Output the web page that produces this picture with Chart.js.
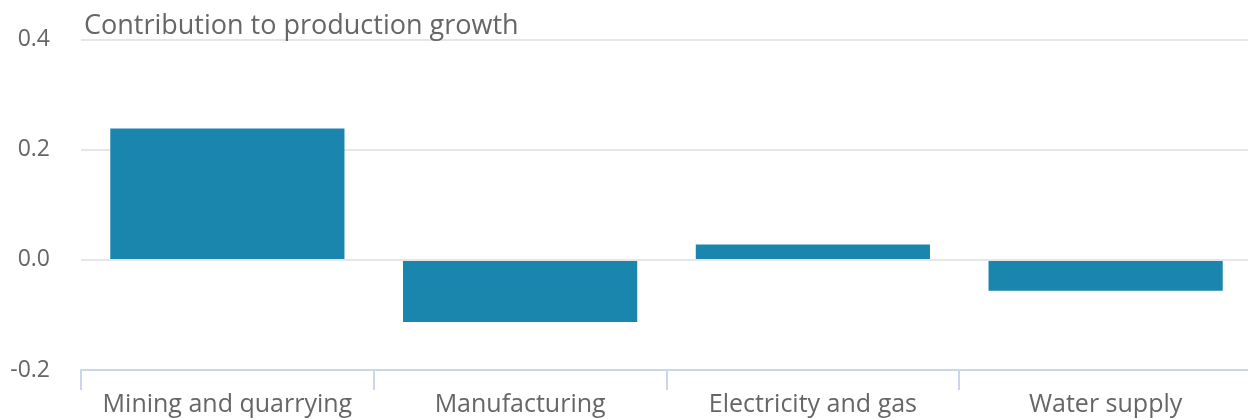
<!DOCTYPE html>
<html>
<head>
<meta charset="utf-8">
<script src="https://cdn.jsdelivr.net/npm/chart.js@4"></script>
<style>
  html, body { margin: 0; padding: 0; background: #fff; overflow: hidden; }
  #wrap { width: 1252px; height: 424px; margin-top: -5px; }
</style>
</head>
<body>
<div id="wrap"><canvas id="chart"></canvas></div>
<script>
// datos del grafico
const categories = ['Mining and quarrying', 'Manufacturing', 'Electricity and gas', 'Water supply'];
const contributions = [0.239, -0.113, 0.028, -0.056];
const yTicks = [-0.2, 0.0, 0.2, 0.4];
const chartTitle = 'Contribution to production growth';

const FONT = "'Open Sans', sans-serif";

// titulo alineado con el area del grafico
const titlePlugin = {
    id: 'plotTitle',
    afterDraw(chart) {
        const ctx = chart.ctx;
        ctx.save();
        ctx.font = "27px " + FONT;
        ctx.fillStyle = '#666666';
        ctx.textBaseline = 'alphabetic';
        ctx.textAlign = 'left';
        ctx.fillText(chartTitle, 84, 39);
        ctx.restore();
    }
};

new Chart(document.getElementById('chart'), {
    type: 'bar',
    data: {
        labels: categories,
        datasets: [{
            label: chartTitle,
            data: contributions,
            backgroundColor: '#1a85ad',
            borderWidth: 0,
            barPercentage: 0.8,
            categoryPercentage: 1
        }]
    },
    options: {
        responsive: true,
        maintainAspectRatio: false,
        animation: false,
        layout: { padding: { top: 13.2, right: 0, bottom: -1, left: 0 } },
        plugins: {
            legend: { display: false },
            tooltip: { enabled: false }
        },
        scales: {
            x: {
                grid: {
                    offset: true,
                    drawOnChartArea: false,
                    drawTicks: true,
                    tickLength: 20,
                    color: '#ccd6eb',
                    lineWidth: 2
                },
                border: { display: true, color: '#ccd6eb', width: 2 },
                ticks: {
                    color: '#666666',
                    font: { family: FONT, size: 25 },
                    padding: 0,
                    maxRotation: 0
                }
            },
            y: {
                min: -0.2,
                max: 0.4,
                afterBuildTicks(scale) {
                    scale.ticks = yTicks.map(v => ({ value: v }));
                },
                afterFit(scale) { scale.width = 81; },
                grid: { color: '#e6e6e6', lineWidth: 2, drawTicks: false },
                border: { display: false },
                ticks: {
                    color: '#666666',
                    font: { family: FONT, size: 23 },
                    padding: 31,
                    callback: v => v.toFixed(1)
                }
            }
        }
    },
    plugins: [titlePlugin]
});
</script>
</body>
</html>
